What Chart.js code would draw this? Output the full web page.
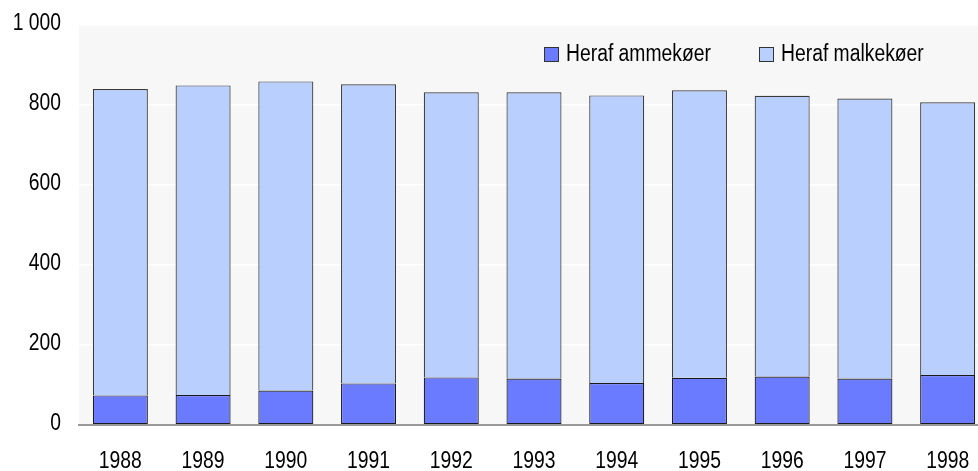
<!DOCTYPE html>
<html>
<head>
<meta charset="utf-8">
<script src="https://cdn.jsdelivr.net/npm/chart.js@4"></script>
<style>
  html, body { margin: 0; padding: 0; background: #fff; overflow: hidden; }
  #chart { display: block; }
</style>
</head>
<body>
<canvas id="chart" width="989" height="471" style="width:989px;height:471px"></canvas>
<script>
// data
var years = ["1988", "1989", "1990", "1991", "1992", "1993", "1994", "1995", "1996", "1997", "1998"];
var ammekoer = [74, 75, 86, 104, 119, 116, 105, 118, 121, 116, 125];
var malkekoer = [766, 774, 773, 748, 713, 716, 719, 719, 702, 700, 682];
var yTicks = [0, 200, 400, 600, 800, 1000];

var FONT = "'Liberation Sans', Arial, sans-serif";
var NARROW = 0.84;   // no narrow face installed, so squeeze the text horizontally

function narrowText(ctx, txt, x, y, align) {
    ctx.save();
    ctx.translate(x, y);
    ctx.scale(NARROW, 1);
    ctx.textAlign = align;
    ctx.fillText(txt, 0, 0);
    ctx.restore();
}

// grey plot background
var plotBg = {
    id: 'plotBg',
    beforeDraw: function (chart) {
        var a = chart.chartArea, ctx = chart.ctx;
        ctx.save();
        ctx.fillStyle = '#f7f7f7';
        ctx.fillRect(a.left, a.top, a.right - a.left, a.bottom - a.top);
        ctx.restore();
    }
};

// axis labels drawn condensed, like the original narrow font
var narrowTicks = {
    id: 'narrowTicks',
    afterDraw: function (chart) {
        var ctx = chart.ctx, xs = chart.scales.x, ys = chart.scales.y;
        ctx.save();
        ctx.font = '23px ' + FONT;
        ctx.fillStyle = '#000';
        ctx.textBaseline = 'middle';
        yTicks.forEach(function (v) {
            var lbl = v >= 1000 ? '1 000' : String(v);
            narrowText(ctx, lbl, 61, ys.getPixelForValue(v) - 1, 'right');
        });
        years.forEach(function (yr, i) {
            narrowText(ctx, yr, xs.getPixelForValue(i), 462, 'center');
        });
        ctx.restore();
    }
};

// legend sits inside the plot, top right
var innerLegend = {
    id: 'innerLegend',
    afterDraw: function (chart) {
        var ctx = chart.ctx;
        var xs = [544, 759];
        var y = 47;
        ctx.save();
        ctx.font = '23px ' + FONT;
        ctx.textBaseline = 'middle';
        chart.data.datasets.forEach(function (ds, i) {
            ctx.fillStyle = ds.backgroundColor;
            ctx.fillRect(xs[i], y, 15, 15);
            ctx.strokeStyle = '#333';
            ctx.lineWidth = 1;
            ctx.strokeRect(xs[i] + 0.5, y + 0.5, 14, 14);
            ctx.fillStyle = '#000';
            narrowText(ctx, ds.label, xs[i] + 22, y + 8, 'left');
        });
        ctx.restore();
    }
};

var ctx = document.getElementById('chart').getContext('2d');
new Chart(ctx, {
    type: 'bar',
    data: {
        labels: years,
        datasets: [{
            label: 'Heraf ammekøer',
            data: ammekoer,
            backgroundColor: '#6b7bff',
            borderColor: '#1a1a1a',
            borderWidth: 1.2,
            borderSkipped: false
        }, {
            label: 'Heraf malkekøer',
            data: malkekoer,
            backgroundColor: '#b9cffd',
            borderColor: '#3a3a3a',
            borderWidth: 1.2,
            borderSkipped: 'bottom'
        }]
    },
    options: {
        responsive: false,
        animation: false,
        categoryPercentage: 1,
        barPercentage: 0.665,
        layout: { padding: { top: 25, left: 0, right: 0, bottom: 0 } },
        plugins: {
            legend: { display: false },
            tooltip: { enabled: false }
        },
        scales: {
            x: {
                stacked: true,
                grid: { display: false, drawTicks: false },
                border: { display: true, color: '#999', width: 2, z: 1 },
                ticks: { display: false },
                afterFit: function (s) { s.height = 46; }
            },
            y: {
                stacked: true,
                min: 0,
                max: 1000,
                afterBuildTicks: function (s) {
                    s.ticks = yTicks.map(function (v) { return { value: v }; });
                },
                grid: { color: '#ffffff', lineWidth: 1.5, drawTicks: false },
                border: { display: false },
                ticks: { display: false },
                afterFit: function (s) { s.width = 79; }
            }
        }
    },
    plugins: [plotBg, narrowTicks, innerLegend]
});
</script>
</body>
</html>
